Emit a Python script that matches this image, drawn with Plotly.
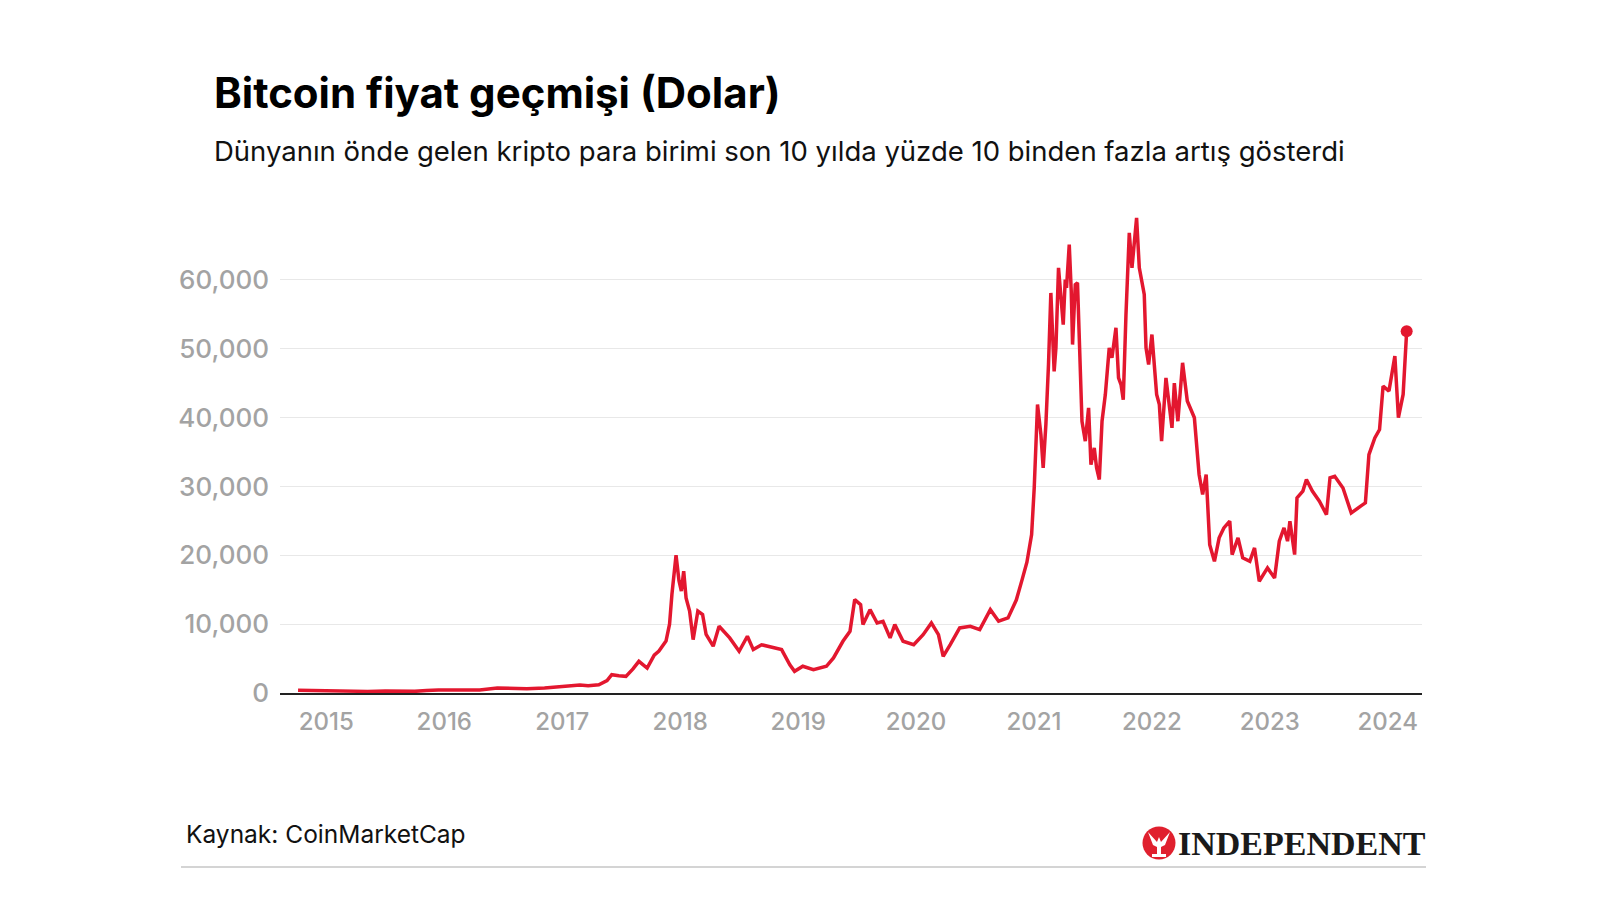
import plotly.graph_objects as go

# Bitcoin price (decimal year, USD)
years = [
    2014.76, 2014.85, 2014.95, 2015.02, 2015.10, 2015.20, 2015.35, 2015.50, 2015.60, 2015.75,
    2015.85, 2015.95, 2016.10, 2016.30, 2016.45, 2016.55, 2016.70, 2016.85, 2016.97, 2017.05,
    2017.15, 2017.22, 2017.31, 2017.38, 2017.42, 2017.48, 2017.54, 2017.60, 2017.65, 2017.72,
    2017.78, 2017.82, 2017.88, 2017.91, 2017.93, 2017.965, 2017.99, 2018.01, 2018.03, 2018.05,
    2018.08, 2018.11, 2018.15, 2018.19, 2018.22, 2018.28, 2018.33, 2018.42, 2018.50, 2018.57,
    2018.62, 2018.69, 2018.79, 2018.86, 2018.93, 2018.97, 2019.04, 2019.13, 2019.24, 2019.30,
    2019.38, 2019.44, 2019.48, 2019.53, 2019.55, 2019.61, 2019.67, 2019.72, 2019.78, 2019.82,
    2019.89, 2019.98, 2020.06, 2020.13, 2020.19, 2020.23, 2020.29, 2020.37, 2020.46, 2020.54,
    2020.63, 2020.70, 2020.78, 2020.85, 2020.90, 2020.94, 2020.98,
    2021.002, 2021.030, 2021.059, 2021.078, 2021.101, 2021.123, 2021.143, 2021.171, 2021.186, 2021.208,
    2021.228, 2021.248, 2021.265, 2021.276, 2021.299, 2021.316, 2021.327, 2021.350, 2021.369, 2021.390,
    2021.407, 2021.435, 2021.463, 2021.483, 2021.511, 2021.531, 2021.554, 2021.577, 2021.605, 2021.638,
    2021.661, 2021.695, 2021.717, 2021.738, 2021.757, 2021.780, 2021.808, 2021.831, 2021.853, 2021.870,
    2021.893, 2021.916, 2021.935, 2021.950, 2021.972, 2022.000, 2022.020, 2022.040, 2022.063, 2022.082,
    2022.119, 2022.17, 2022.19, 2022.22, 2022.26, 2022.30, 2022.36, 2022.40, 2022.43, 2022.46,
    2022.49, 2022.53, 2022.57, 2022.61, 2022.66, 2022.68, 2022.73, 2022.77, 2022.83, 2022.87,
    2022.91, 2022.98, 2023.04, 2023.08, 2023.12, 2023.15, 2023.17, 2023.21, 2023.23, 2023.28,
    2023.31, 2023.36, 2023.42, 2023.48, 2023.51, 2023.55, 2023.62, 2023.69, 2023.77, 2023.81,
    2023.84, 2023.89, 2023.93, 2023.96, 2024.01, 2024.06, 2024.09, 2024.13, 2024.16,
]
prices = [
    410, 370, 330, 250, 240, 260, 230, 280, 250, 240,
    350, 430, 420, 450, 720, 650, 620, 730, 900, 1000,
    1150, 1050, 1200, 1800, 2660, 2500, 2420, 3500, 4600, 3630,
    5500, 6100, 7550, 10000, 14300, 20000, 16300, 14800, 17700, 13800,
    11900, 7750, 11900, 11400, 8500, 6800, 9700, 8000, 6060, 8240,
    6300, 7000, 6540, 6300, 4100, 3150, 3880, 3390, 3880, 5090,
    7510, 8960, 13560, 12830, 9930, 12100, 10170, 10420, 8000, 9930,
    7510, 7020, 8470, 10170, 8470, 5330, 7020, 9450, 9690, 9200,
    12100, 10420, 10900, 13500, 16500, 19000, 23000,
    29800, 41900, 37500, 32700, 39000, 47700, 58100, 46700, 50100, 61750,
    57870, 53500, 60050, 58840, 65130, 58360, 50600, 59320, 59570, 50120,
    39470, 36570, 41410, 33170, 35600, 32690, 31000, 39470, 43340, 50120,
    48670, 53030, 45770, 44800, 42600, 54960, 66830, 61750, 66100, 69010,
    61750, 59320, 57870, 50120, 47700, 52060, 46740, 43340, 41890, 36570,
    45770, 38500, 45010, 39470, 47950, 42400, 39970, 31730, 28820, 31730,
    21550, 19130, 22530, 23980, 24950, 20100, 22530, 19620, 19130, 21070,
    16230, 18170, 16710, 22050, 23980, 22050, 24950, 20100, 28330, 29320,
    31000, 29320, 27860, 25910, 31240, 31480, 29780, 26150, 27130, 27610,
    34630, 37050, 38260, 44560, 43850, 48920, 40000, 43360, 52550,
]

tick_years = [2015, 2016, 2017, 2018, 2019, 2020, 2021, 2022, 2023, 2024]
tick_labels = [str(y) for y in tick_years]
y_ticks = [0, 10000, 20000, 30000, 40000, 50000, 60000]

title = "Bitcoin fiyat geçmişi (Dolar)"
subtitle = "Dünyanın önde gelen kripto para birimi son 10 yılda yüzde 10 binden fazla artış gösterdi"
source = "Kaynak: CoinMarketCap"

RED = "#e3172f"
GREY_TXT = "#a3a3a3"

# plot area in pixels, used to place the decorations in paper units
L, R, T, B = 272, 1414, 203, 685


def px(x):
    return (x - L) / (R - L)


def py(y):
    return (B - y) / (B - T)


fig = go.Figure()
fig.add_trace(go.Scatter(x=years, y=prices, mode="lines",
                         line=dict(color=RED, width=3.5), hoverinfo="skip"))
fig.add_trace(go.Scatter(x=years[-1:], y=prices[-1:], mode="markers",
                         marker=dict(color=RED, size=12), hoverinfo="skip"))

fig.update_layout(
    width=1600, height=900,
    margin=dict(l=L, r=1600 - R, t=T, b=900 - B),
    paper_bgcolor="white", plot_bgcolor="white",
    showlegend=False,
    font=dict(family="Inter", color="#000"),
)
fig.update_xaxes(
    range=[2014.607, 2024.29], tickvals=tick_years, ticktext=tick_labels,
    showgrid=False, zeroline=False, showline=True, linecolor="#222", linewidth=1.5,
    ticks="", tickfont=dict(size=24, weight=500, color=GREY_TXT), ticklabelstandoff=6,
)
fig.update_yaxes(
    range=[0, 70000], tickvals=y_ticks, tickformat=",d",
    showgrid=True, gridcolor="#e8e8e8", gridwidth=1.3, zeroline=False,
    ticks="", tickfont=dict(size=26, weight=500, color=GREY_TXT), ticklabelstandoff=10,
)

fig.add_annotation(text=title, xref="paper", yref="paper", x=px(204), y=py(84),
                   xanchor="left", yanchor="middle", showarrow=False,
                   font=dict(size=42, weight=700, color="#000"))
fig.add_annotation(text=subtitle, xref="paper", yref="paper", x=px(204), y=py(143),
                   xanchor="left", yanchor="middle", showarrow=False,
                   font=dict(size=27.5, color="#111"))
fig.add_annotation(text=source, xref="paper", yref="paper", x=px(176), y=py(826),
                   xanchor="left", yanchor="middle", showarrow=False,
                   font=dict(size=24.5, color="#111"))

# Independent logo
fig.add_annotation(text="INDEPENDENT", xref="paper", yref="paper", x=px(1420), y=py(835),
                   xanchor="right", yanchor="middle", showarrow=False,
                   font=dict(family="Liberation Serif", size=34, weight=700, color="#1a1a1a"))
cx, cy, r = 1151, 835, 16.5
fig.add_shape(type="circle", xref="paper", yref="paper",
              x0=px(cx - r), x1=px(cx + r), y0=py(cy + r), y1=py(cy - r),
              fillcolor="#e0202e", line=dict(width=0))
eagle = [(1140, 824), (1149, 834), (1151, 829), (1153, 834), (1162, 824), (1157, 837),
         (1153, 839), (1153, 846), (1158, 846), (1158, 849), (1144, 849), (1144, 846),
         (1149, 846), (1149, 839), (1145, 837)]
path = "M " + " L ".join(f"{px(a):.5f},{py(b):.5f}" for a, b in eagle) + " Z"
fig.add_shape(type="path", xref="paper", yref="paper", path=path,
              fillcolor="white", line=dict(width=0))

# bottom rule
fig.add_shape(type="line", xref="paper", yref="paper", x0=px(173), x1=px(1418),
              y0=py(859), y1=py(859), line=dict(color="#d4d4d4", width=2))

fig.write_html("out.html")
